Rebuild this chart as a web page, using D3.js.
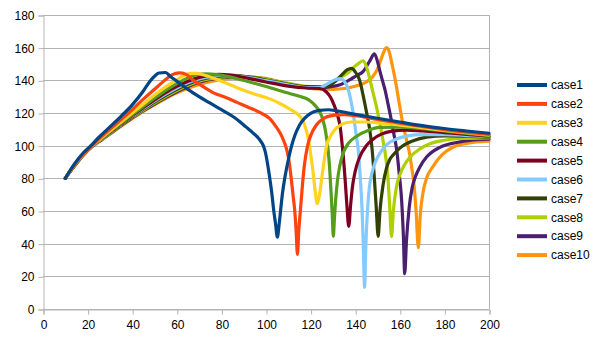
<!DOCTYPE html>
<html>
<head>
<meta charset="utf-8">
<script src="https://cdn.jsdelivr.net/npm/d3@7"></script>
<style>
  html, body { margin: 0; padding: 0; background: #fff; }
  svg { display: block; font-family: "Liberation Sans", Arial, sans-serif; }
</style>
</head>
<body>
<svg id="chart" width="605" height="340"></svg>
<script>
// Series names and measured curves ([x, y] pairs per case)
const seriesNames = ["case1", "case2", "case3", "case4", "case5", "case6", "case7", "case8", "case9", "case10"];

const case1 = [[10,80],[12,84.5],[15,90.5],[18,95.5],[21.5,100],[25,105],[30,111.5],[35,118],[40,125],[45,133.5],[48,139.5],[50,142.5],[52,144.5],[55,144.8],[57,142.5],[60,139.5],[65,134.5],[70,130],[75,126],[80,122],[85,118],[88,115],[91,111.5],[94,108],[96,105.5],[97.5,103],[98.8,100],[99.8,95.5],[100.8,88],[101.7,80],[102.6,71],[103.4,61],[104.3,52],[105.1,44],[105.9,52],[106.6,61],[107.4,71],[108.4,80],[109.8,90],[111.3,99],[113,106.5],[115,112.5],[117.5,117],[120,119.8],[124,121.6],[128,122],[132,121.2],[140,119.2],[150,116.8],[160,114.5],[170,112.3],[180,110.5],[190,109],[200,107.6]];

const case2 = [[10,80],[12,84.3],[15,90],[18,95],[22,100],[25,104],[30,110],[35,116],[40,122],[45,128.5],[50,134.5],[55,140.5],[58,143.5],[61,144.6],[64,143.8],[67,140.5],[72,136],[77,132],[82,129.5],[87,126.5],[92,123.5],[97,120.5],[101.7,116.5],[104.8,111],[107,106],[108.5,101],[109.5,96.5],[110.5,89],[111.3,80],[112.1,70],[112.9,60],[113.5,48],[114.1,33.5],[114.7,48],[115.4,60],[116,70],[116.6,80],[117.4,90],[118.5,99],[120,106],[122.5,112.5],[125.6,116.5],[130,118.5],[135,119],[140,118.4],[150,116],[160,113.8],[170,111.8],[180,109.8],[190,108.2],[200,106.9]];

const case3 = [[10,80],[12,84.2],[15,89.8],[18,94.8],[22,100],[26,104.5],[30,109],[35,114.5],[40,120],[45,125.5],[50,131],[55,136],[60,140.3],[63,142.8],[66,144.3],[69,144.2],[72,143.3],[80,139.5],[87,135.5],[95,131.5],[102,128.5],[106,126],[110,123],[113,120.5],[115.5,117.5],[117,114],[118.5,107],[119.8,97],[121,85],[122,73],[123,64.5],[124,70],[125,80],[126,90],[127.2,100],[129,106],[131,110],[134,113],[138,114.5],[145,114.5],[150,114],[160,112.6],[170,111],[180,109.4],[190,108],[200,106.6]];

const case4 = [[10,80],[12,84.1],[15,89.6],[18,94.6],[22,100],[26,104.3],[30,108.5],[35,113.8],[40,119],[45,124],[50,129],[55,133.8],[60,138],[65,141.5],[69,143.4],[73,144],[79,143.3],[87,141],[94,138.5],[100,136.2],[109,132.5],[115,130.2],[119,128.2],[121,126],[123.5,122],[125.5,116],[126.8,108],[127.8,98],[128.5,87],[129.2,71],[129.7,58],[130.2,44.5],[130.7,56],[131.2,66],[132,78],[133,87],[134.5,95],[137,101.5],[140.7,105.8],[146,109.5],[151,111.2],[160,111.4],[170,110.4],[180,109],[190,107.5],[200,106.2]];

const case5 = [[10,80],[12,84],[15,89.5],[18,94.5],[22,100],[26,104.2],[30,108.3],[35,113.5],[40,118.5],[45,123.3],[50,128],[55,132.5],[60,136.3],[65,139.5],[70,141.8],[75,143.2],[79,143.6],[84,143.2],[90,141.8],[100,139],[110,136.5],[118,135.3],[124,135],[127,133],[129,129.5],[130.5,125],[132,119],[133.2,112],[134.2,100],[135,88],[135.7,75],[136.3,63],[137.1,50.6],[137.9,63],[138.7,74],[139.5,81],[140.5,87],[142,93],[145,100],[148,104],[152,107.2],[156,108.8],[163,109.5],[170,109],[180,108],[190,106.9],[200,105.9]];

const case6 = [[10,80],[12,84],[15,89.4],[18,94.4],[22,99.8],[26,104],[30,108],[35,113.2],[40,118.2],[45,122.8],[50,127.3],[55,131.5],[60,135.3],[65,138.5],[70,140.8],[76,142.5],[82,143.1],[90,142.2],[100,139.8],[110,137.2],[118,135.6],[124,135.6],[128,138.2],[131,140.3],[133.5,141],[135,139.6],[136.5,136],[138,128],[139.3,118],[140.5,106],[141.4,97],[142.3,80],[143.1,60],[143.6,40],[144.2,13.3],[144.8,40],[145.5,60],[146.3,74],[147.3,82],[148.5,88],[150.5,94],[154,100.5],[158,103.8],[163,105.8],[170,106.7],[180,106.7],[190,106.2],[200,105.5]];

const case7 = [[10,80],[12,84],[15,89.3],[18,94.3],[22,99.7],[26,103.8],[30,107.8],[35,112.9],[40,117.8],[45,122.3],[50,126.7],[55,130.8],[60,134.5],[65,137.7],[70,140.2],[78,142.4],[84,143],[92,142.2],[100,140.2],[110,137.6],[118,136.1],[124,136],[128,136.8],[131,139.3],[134,143.3],[136.5,146.5],[138.4,147.3],[140,145.2],[142,140],[143.6,130.5],[145,121],[146.5,110],[147.5,99],[148.5,82],[149.4,63],[150.3,44.5],[151.1,60],[152.5,76],[154,86],[155.5,91.5],[157.1,94.5],[160,98.5],[166,103],[172,105.2],[180,106],[190,105.8],[200,105.2]];

const case8 = [[10,80],[12,84],[15,89.2],[18,94.2],[22,99.6],[26,103.6],[30,107.5],[35,112.6],[40,117.4],[45,121.8],[50,126],[55,130],[60,133.7],[65,136.9],[70,139.5],[80,142],[86,142.5],[94,142],[102,140.2],[110,138.2],[118,136.3],[124,136],[128,137.3],[132,140.8],[136.2,144],[140.7,149.5],[143.6,152],[145,148.5],[146.6,140.5],[148,132.5],[149.5,124],[151,114],[152.5,103],[153.7,93],[154.7,80],[155.5,62],[156.3,44.3],[157.1,60],[158.4,74],[160,82],[162,88],[164.6,93],[169,98],[173.5,101.2],[180,103.3],[186,104.3],[200,104.8]];

const case9 = [[10,80],[12,83.9],[15,89.1],[18,94.1],[22,99.5],[26,103.4],[30,107.3],[35,112.3],[40,117],[45,121.4],[50,125.5],[55,129.4],[60,133],[65,136.2],[70,138.8],[80,141.6],[88,142.2],[96,141.6],[104,139.6],[112,137.2],[120,135.6],[126,135.5],[129,136.1],[133.2,137.3],[137.7,140.4],[140.5,142.8],[143.6,145.5],[146.6,152],[148.6,156.2],[150,151.5],[151.1,145.5],[152.3,139.5],[153.4,134],[154.5,127],[156,117],[157.5,106],[158.6,97.5],[159.8,82],[160.8,67],[161.6,45],[162.2,21.6],[163,42],[164.2,62],[165.5,74],[167,81],[169,87],[172,93],[178,99],[185,101.8],[193,103.5],[200,104]];

const case10 = [[10,80],[12,83.8],[15,89],[18,94],[22,99.4],[26,103.2],[30,107],[35,112],[40,116.6],[45,121],[50,125],[55,128.8],[60,132.3],[66,135.6],[72,138.2],[79,140.3],[86,141.5],[92,141.9],[98,141.5],[106,139.2],[114,136.7],[122,134.7],[130,134.5],[135,135],[140,136.4],[145,139],[148,142.5],[150,147],[151.5,152.5],[153,158],[154,160],[155,158.5],[156.5,150],[158,140],[159.5,128],[161,116],[163,103.5],[164.4,95],[165.3,87],[166.3,77],[167.3,60],[168.3,37.5],[169.2,58],[170.5,72],[172,80],[175,87.5],[179,94.5],[184,99.2],[190,101.4],[200,102.7]];

const seriesData = [case1, case2, case3, case4, case5, case6, case7, case8, case9, case10];
const palette = ["#004586", "#ff420e", "#ffd320", "#579d1c", "#7e0021", "#83caff", "#314004", "#aecf00", "#4b1f6f", "#ff950e"];
const xTicks = [0, 20, 40, 60, 80, 100, 120, 140, 160, 180, 200];
const yTicks = [0, 20, 40, 60, 80, 100, 120, 140, 160, 180];

const svg = d3.select("#chart");
const plot = { left: 43, right: 489, top: 15, bottom: 309 };

const x = d3.scaleLinear().domain([0, 200]).range([plot.left, plot.right]);
const y = d3.scaleLinear().domain([0, 180]).range([plot.bottom, plot.top]);

const gridColor = "#b3b3b3";

// Horizontal grid lines
svg.append("g")
  .selectAll("line")
  .data(yTicks)
  .join("line")
  .attr("x1", plot.left).attr("x2", plot.right)
  .attr("y1", d => Math.round(y(d)) + 0.5).attr("y2", d => Math.round(y(d)) + 0.5)
  .attr("stroke", gridColor).attr("stroke-width", 1);

// Right frame edge
svg.append("line")
  .attr("x1", Math.round(x(200)) + 0.5).attr("x2", Math.round(x(200)) + 0.5)
  .attr("y1", plot.top).attr("y2", plot.bottom)
  .attr("stroke", gridColor);

// Left axis
const yAxis = svg.append("g")
  .attr("transform", `translate(${plot.left + 0.5},0.5)`)
  .call(d3.axisLeft(y).tickValues(yTicks).tickSize(5).tickPadding(4));
// Bottom axis
const xAxis = svg.append("g")
  .attr("transform", `translate(0.5,${plot.bottom + 0.5})`)
  .call(d3.axisBottom(x).tickValues(xTicks).tickSize(5).tickPadding(6));

[yAxis, xAxis].forEach(g => {
  g.select(".domain").attr("stroke", gridColor).attr("stroke-width", 1);
  g.selectAll(".tick line").attr("stroke", gridColor);
  g.selectAll(".tick text")
    .attr("fill", "#000")
    .style("font-family", '"Liberation Sans", Arial, sans-serif')
    .style("font-size", "12px");
});

// Curves
const line = d3.line()
  .x(d => x(d[0]))
  .y(d => y(d[1]))
  .curve(d3.curveMonotoneX);

const order = d3.range(seriesData.length).reverse();
svg.append("g")
  .selectAll("path")
  .data(order)
  .join("path")
  .attr("d", i => line(seriesData[i]))
  .attr("fill", "none")
  .attr("stroke", i => palette[i])
  .attr("stroke-width", 3.2)
  .attr("stroke-linejoin", "round")
  .attr("stroke-linecap", "round");

// Legend
const legend = svg.append("g");
const legendTop = 85, legendStep = 18.9;
seriesNames.forEach((name, i) => {
  const row = legend.append("g").attr("transform", `translate(0,${legendTop + i * legendStep})`);
  row.append("line")
    .attr("x1", 517).attr("x2", 547)
    .attr("y1", 0).attr("y2", 0)
    .attr("stroke", palette[i]).attr("stroke-width", 4);
  row.append("text")
    .attr("x", 551).attr("y", 0)
    .attr("dy", "0.35em")
    .attr("fill", "#000")
    .style("font-size", "12px")
    .text(name);
});
</script>
</body>
</html>
